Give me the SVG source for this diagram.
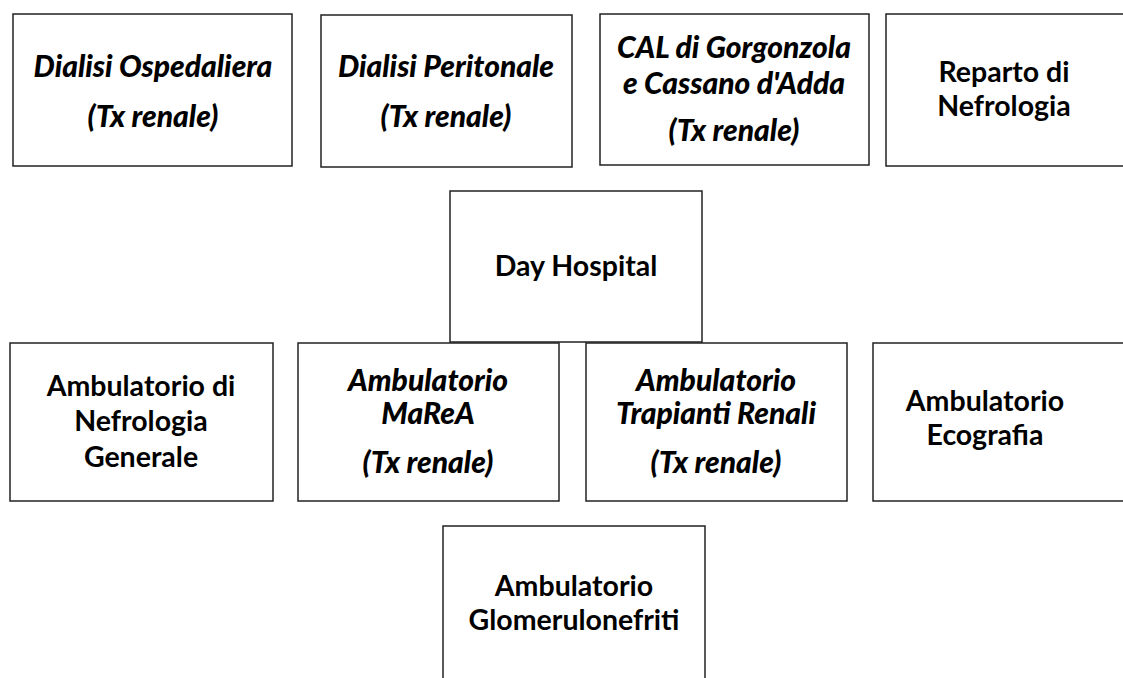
<svg xmlns="http://www.w3.org/2000/svg" width="1123" height="678" viewBox="0 0 1123 678">
<style>
rect.box{fill:#fff;stroke:#222;stroke-width:1.5}
text{font-family:Lato,"Open Sans","Liberation Sans",sans-serif;font-weight:700;font-size:28.5px;fill:#000;text-anchor:middle}
text.it{font-style:italic;font-weight:900;font-size:30px}
</style>
<rect width="1123" height="678" fill="#fff"/>
<g id="connectors"></g>
<g id="n1"><rect class="box" x="13" y="14" width="279" height="152"/>
<text class="it" x="153" y="77">Dialisi Ospedaliera</text><text class="it" x="153" y="127">(Tx renale)</text></g>
<g id="n2"><rect class="box" x="321" y="15" width="251" height="152"/>
<text class="it" x="446" y="77">Dialisi Peritonale</text><text class="it" x="446" y="127">(Tx renale)</text></g>
<g id="n3"><rect class="box" x="600" y="14" width="269" height="151"/>
<text class="it" x="734" y="58">CAL di Gorgonzola</text><text class="it" x="734" y="94">e Cassano d'Adda</text><text class="it" x="734" y="141">(Tx renale)</text></g>
<g id="n4"><rect class="box" x="886" y="14" width="250" height="152"/>
<text x="1004" y="82">Reparto di</text><text x="1004" y="116">Nefrologia</text></g>
<g id="n5"><rect class="box" x="450" y="191" width="252" height="151"/>
<text x="576" y="276">Day Hospital</text></g>
<g id="n6"><rect class="box" x="10" y="343" width="263" height="158"/>
<text x="141" y="396">Ambulatorio di</text><text x="141" y="431">Nefrologia</text><text x="141" y="467">Generale</text></g>
<g id="n7"><rect class="box" x="298" y="343" width="261" height="158"/>
<text class="it" x="428" y="391">Ambulatorio</text><text class="it" x="428" y="424">MaReA</text><text class="it" x="428" y="473">(Tx renale)</text></g>
<g id="n8"><rect class="box" x="586" y="343" width="261" height="158"/>
<text class="it" x="716" y="391">Ambulatorio</text><text class="it" x="716" y="424">Trapianti Renali</text><text class="it" x="716" y="473">(Tx renale)</text></g>
<g id="n9"><rect class="box" x="873" y="343" width="260" height="158"/>
<text x="985" y="411">Ambulatorio</text><text x="985" y="445">Ecografia</text></g>
<g id="n10"><rect class="box" x="443" y="526" width="262" height="160"/>
<text x="574" y="596">Ambulatorio</text><text x="574" y="630">Glomerulonefriti</text></g>
</svg>
